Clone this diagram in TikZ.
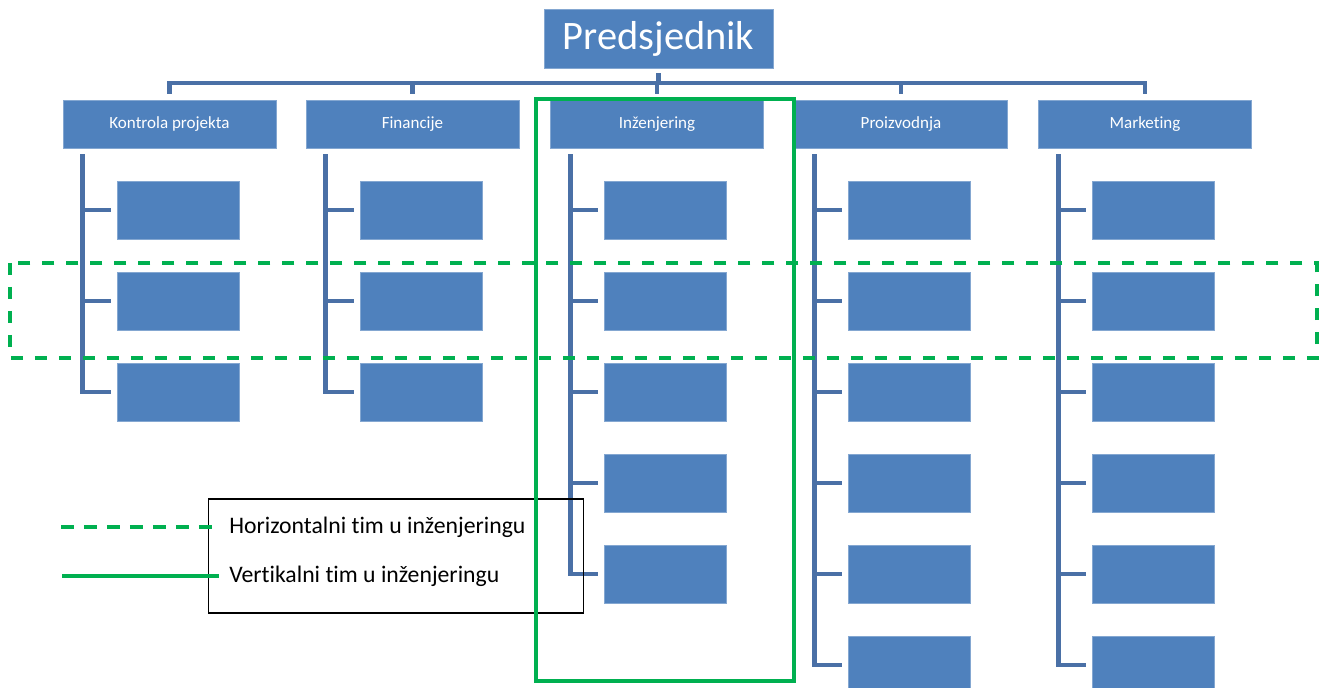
\documentclass[tikz,border=0pt]{standalone}
\usepackage{fontspec}
\setmainfont{Carlito}[Ligatures=NoCommon]
\usetikzlibrary{positioning}
\usetikzlibrary{calc}

\definecolor{boxblue}{HTML}{4F81BD}
\definecolor{lineblue}{HTML}{4A70A6}
\definecolor{teamgreen}{HTML}{00B050}

\tikzset{
	unit/.style={rectangle, fill=boxblue, draw=boxblue!70!white, line width=0.4pt, text=white, inner sep=0pt},
	dept/.style={unit, minimum width=4.26cm, minimum height=0.96cm, font=\fontsize{9.7}{11}\selectfont},
	member/.style={unit, minimum width=2.44cm, minimum height=1.16cm},
	conn/.style={draw=lineblue, line width=2.8pt},
	vteam/.style={draw=teamgreen, line width=2.2pt},
	hteam/.style={draw=teamgreen, line width=2.2pt, dash pattern=on 0.24cm off 0.24cm},
	legtext/.style={anchor=west, inner sep=0pt, font=\fontsize{13.5}{16}\selectfont}
}

\begin{document}
\begin{tikzpicture}[x=0.02cm, y=-0.02cm]
	\useasboundingbox (0,0) rectangle (1320,688);
	\clip (0,0) rectangle (1320,688);

	% top box
	\node[unit, minimum width=4.58cm, minimum height=1.18cm, font=\fontsize{23}{27}\selectfont] (p) at (658.5,38.5) {Predsjednik};
	\coordinate (bus) at (0,83);

	% departments with their members
	\foreach \i/\x/\name/\n in {1/169.5/Kontrola projekta/3, 2/412.5/Financije/3, 3/657/Inženjering/5, 4/901/Proizvodnja/6, 5/1145/Marketing/6}
	{
		\node[dept] (d\i) at (\x,124) {\name};
		\coordinate (top\i) at ([yshift=0.12cm]d\i.north);
		\draw[conn] (top\i) -- (top\i |- bus);

		\foreach \j in {1,...,\n}
			{\node[member] (m\i-\j) at ({\x+8.5},{119+91*\j}) {};}

		\coordinate (tr\i) at ([xshift=0.4cm,yshift=-0.12cm]d\i.south west);
		\draw[conn] (tr\i) |- ([xshift=-0.12cm]m\i-\n.west);
		\foreach \j in {1,...,\n}
			{\draw[conn] (tr\i |- m\i-\j.west) -- ([xshift=-0.12cm]m\i-\j.west);}
	}

	\draw[conn] (top1) |- (top5 |- bus) -- (top5);
	\draw[conn] ([yshift=-0.1cm]p.south) -- (p.south |- bus);

	% legend
	\node[draw=black, line width=0.6pt, minimum width=7.52cm, minimum height=2.28cm, inner sep=0pt] (leg) at (396,556) {};
	\node[legtext] (lh) at (229,527) {Horizontalni tim u inženjeringu};
	\node[legtext] (lv) at (229,576) {Vertikalni tim u inženjeringu};
	\coordinate (lh0) at (61,527);
	\coordinate (lv0) at (62,576);
	\draw[hteam, line width=2.6pt, dash pattern=on 0.26cm off 0.2cm] (lh0) -- ([xshift=-0.22cm]lh.west);
	\draw[vteam, line width=2.6pt] (lv0) -- ([xshift=-0.2cm]lv.west);

	% teams
	\draw[vteam] (536,99) rectangle (794,681);
	\draw[hteam] (10,263) rectangle (1317,358);
\end{tikzpicture}
\end{document}
